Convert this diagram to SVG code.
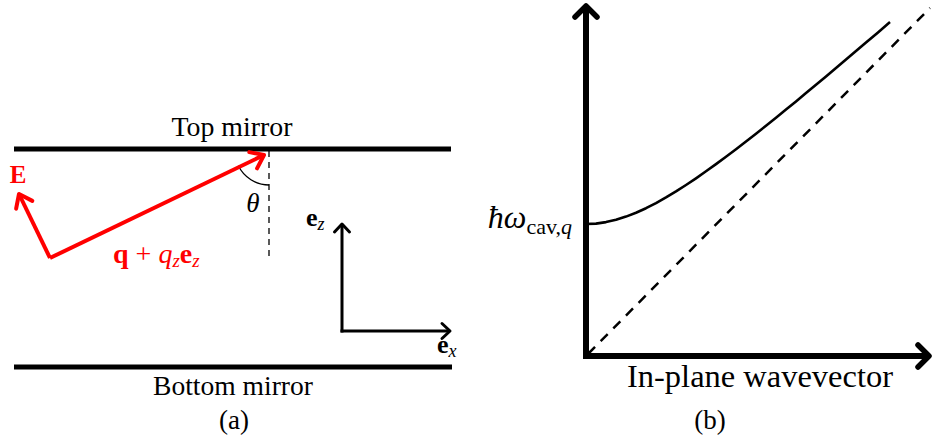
<svg xmlns="http://www.w3.org/2000/svg" width="932" height="440" viewBox="0 0 932 440">
<style>
text{font-family:'Liberation Serif','DejaVu Serif',serif;fill:#000}
.lbl{font-size:27px;text-anchor:middle}
.red{fill:#ff0000}
.mirror{stroke:#000;stroke-width:5;fill:none}
.axis{stroke:#000;stroke-width:6;fill:none;stroke-linecap:butt}
.small{stroke:#000;stroke-width:3;fill:none}
.redl{stroke:#ff0000;stroke-width:4;fill:none}
</style>
<defs>
<marker id="arRed" markerUnits="userSpaceOnUse" viewBox="-16 -12 20 24" refX="0" refY="0" markerWidth="20" markerHeight="24" orient="auto" overflow="visible">
<path d="M-12,-9 L0,0 L-12,9" fill="none" stroke="#ff0000" stroke-width="4" stroke-linecap="round" stroke-linejoin="round"/>
</marker>
<marker id="arSm" markerUnits="userSpaceOnUse" viewBox="-12 -10 16 20" refX="0" refY="0" markerWidth="16" markerHeight="20" orient="auto" overflow="visible">
<path d="M-8,-7.5 L0,0 L-8,7.5" fill="none" stroke="#000" stroke-width="3" stroke-linecap="round" stroke-linejoin="round"/>
</marker>
<marker id="arBig" markerUnits="userSpaceOnUse" viewBox="-16 -14 20 28" refX="0" refY="0" markerWidth="20" markerHeight="28" orient="auto" overflow="visible">
<path d="M-11,-11 L0,0 L-11,11" fill="none" stroke="#000" stroke-width="5.5" stroke-linecap="round" stroke-linejoin="round"/>
</marker>
</defs>

<g id="panel-a">
  <g id="top-mirror">
    <line class="mirror" x1="14" y1="149" x2="451" y2="149"/>
    <text class="lbl" x="232" y="136" textLength="121" lengthAdjust="spacingAndGlyphs">Top mirror</text>
  </g>
  <g id="bottom-mirror">
    <line class="mirror" x1="14" y1="367" x2="452" y2="367"/>
    <text class="lbl" x="233" y="395" textLength="160" lengthAdjust="spacingAndGlyphs">Bottom mirror</text>
  </g>
  <g id="normal">
    <line x1="269" y1="151" x2="269" y2="258" stroke="#000" stroke-width="1.3" stroke-dasharray="6,5"/>
    <path d="M238.4,165.8 A34,34 0 0 0 269,185" fill="none" stroke="#000" stroke-width="1.3"/>
    <text x="253" y="212" font-size="27" font-style="italic" text-anchor="middle">θ</text>
  </g>
  <g id="connectors">
    <line class="redl" x1="50" y1="258" x2="264" y2="155" marker-end="url(#arRed)"/>
    <line class="redl" x1="50" y1="258" x2="19" y2="194" marker-end="url(#arRed)"/>
    <line class="small" x1="342" y1="332.5" x2="342" y2="224" marker-end="url(#arSm)"/>
    <line class="small" x1="340.5" y1="331" x2="450" y2="331" marker-end="url(#arSm)"/>
  </g>
  <g id="E-label">
    <text class="red" x="18" y="183" font-size="25" font-weight="bold" text-anchor="middle">E</text>
  </g>
  <g id="q-label">
    <text class="red" x="113" y="263" font-size="28"><tspan font-weight="bold">q</tspan> + <tspan font-style="italic">q</tspan><tspan font-style="italic" font-size="19" dy="4">z</tspan><tspan font-weight="bold" dy="-4">e</tspan><tspan font-style="italic" font-size="19" dy="4">z</tspan></text>
  </g>
  <g id="ez-label">
    <text x="306" y="226" font-size="26"><tspan font-weight="bold">e</tspan><tspan font-style="italic" font-size="18" dy="4">z</tspan></text>
  </g>
  <g id="ex-label">
    <text x="437" y="353" font-size="26"><tspan font-weight="bold">e</tspan><tspan font-style="italic" font-size="18" dy="4">x</tspan></text>
  </g>
  <text class="lbl" x="234" y="429">(a)</text>
</g>

<g id="panel-b">
  <g id="axes">
    <line class="axis" x1="586" y1="359" x2="586" y2="6" marker-end="url(#arBig)"/>
    <line class="axis" x1="583" y1="356" x2="929" y2="356" marker-end="url(#arBig)"/>
  </g>
  <g id="light-line">
    <line x1="588" y1="354" x2="930" y2="8" stroke="#000" stroke-width="2.5" stroke-dasharray="10,8"/>
  </g>
  <g id="dispersion">
    <polyline fill="none" stroke="#000" stroke-width="2.6" stroke-linejoin="round" points="586,224 596,223.6 606,222.1 616,219.8 626,216.6 636,212.8 646,208.2 656,203.1 666,197.4 676,191.4 686,185 696,178.3 706,171.3 716,164.1 726,156.7 736,149.2 746,141.5 756,133.7 766,125.7 776,117.7 786,109.6 796,101.4 806,93.1 816,84.8 826,76.5 836,68.1 846,59.6 856,51.1 866,42.6 878,32.4 890,22"/>
  </g>
  <g id="omega-label">
    <text x="572" y="228" text-anchor="end" font-size="32"><tspan font-style="italic">ħω</tspan><tspan font-size="22" dy="6">cav,</tspan><tspan font-size="22" font-style="italic">q</tspan></text>
  </g>
  <text x="760" y="387" font-size="32" text-anchor="middle" textLength="266" lengthAdjust="spacingAndGlyphs">In-plane wavevector</text>
  <text class="lbl" x="710" y="429">(b)</text>
</g>
</svg>
